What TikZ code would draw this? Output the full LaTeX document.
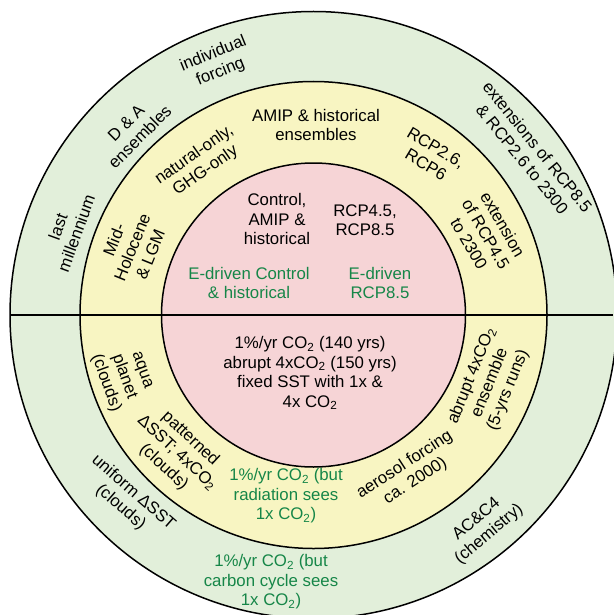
\documentclass[tikz,border=0pt]{standalone}
\usepackage{fontspec}
\setmainfont{Liberation Sans}
\definecolor{ringout}{RGB}{226,239,218}
\definecolor{ringmid}{RGB}{248,245,194}
\definecolor{ringin}{RGB}{246,212,214}
\definecolor{tgreen}{RGB}{22,134,72}
\newcommand\cotwo{CO\textsubscript{2}}
\begin{document}
\begin{tikzpicture}[x=1pt,y=-1pt,
  lbl/.style={align=center, font=\fontsize{16.8}{19.5}\selectfont, inner sep=0pt},
  glbl/.style={lbl, text=tgreen},
  ring/.style={line width=1.5pt, draw=black}]
\useasboundingbox (0,0) rectangle (613,615);
\fill[white] (0,0) rectangle (613,615);
\coordinate (c) at (313.5,315);
\draw[ring, fill=ringout] (c) circle[radius=303.5pt];
\draw[ring, fill=ringmid] (c) circle[radius=233.5pt];
\draw[ring, fill=ringin] (c) circle[radius=152pt];
\coordinate (hl) at (10,315);
\coordinate (hr) at (613,315);
\draw[line width=1.4pt] (hl) -- (hr);

% inner circle
\node[lbl] (ctrl) at (277,219) {Control,\\AMIP \&\\historical};
\node[lbl] (rcp45) at (365,220) {RCP4.5,\\RCP8.5};
\node[glbl] (edctrl) at (249,283) {E-driven Control\\\& historical};
\node[glbl] (edrcp) at (380,283) {E-driven\\RCP8.5};
\node[lbl] (onepct) at (310,373) {1\%/yr \cotwo{} (140 yrs)\\abrupt 4x\cotwo{} (150 yrs)\\fixed SST with 1x \&\\4x \cotwo};

% middle ring
\node[lbl] (amip) at (316,125) {AMIP \& historical\\ensembles};
\node[lbl, rotate=-31] (rcp26) at (431,156) {RCP2.6,\\RCP6};
\node[lbl, rotate=-60] (ext45) at (486,234) {extension\\of RCP4.5\\to 2300};
\node[lbl, rotate=35] (natural) at (200,163) {natural-only,\\GHG-only};
\node[lbl, rotate=68] (midho) at (132,247) {Mid-\\Holocene\\\& LGM};
\node[lbl, rotate=-70] (aqua) at (123,377) {aqua\\planet\\(clouds)};
\node[lbl, rotate=-43] (pattern) at (177,453) {patterned\\ΔSST; 4x\cotwo\\(clouds)};
\node[glbl] (radsees) at (286,496) {1\%/yr \cotwo{} (but\\radiation sees\\1x \cotwo)};
\node[lbl, rotate=33] (aerosol) at (410,473) {aerosol forcing\\ca. 2000)};
\node[lbl, rotate=68] (abrupt) at (490,383) {abrupt 4x\cotwo\\ensemble\\(5-yrs runs)};

% outer ring
\node[lbl, rotate=22] (indiv) at (217,63) {individual\\forcing};
\node[lbl, rotate=45] (dna) at (133,130) {D \& A\\ensembles};
\node[lbl, rotate=70] (lastm) at (67,230) {last\\millennium};
\node[lbl, rotate=-51] (ext85) at (530,153) {extensions of RCP8.5\\\& RCP2.6 to 2300};
\node[lbl, rotate=-41] (uniform) at (127,500) {uniform ΔSST\\(clouds)};
\node[glbl] (carbsees) at (271,582) {1\%/yr \cotwo{} (but\\carbon cycle sees\\1x \cotwo)};
\node[lbl, rotate=40] (acc4) at (483,527) {AC\&C4\\(chemistry)};
\end{tikzpicture}
\end{document}
